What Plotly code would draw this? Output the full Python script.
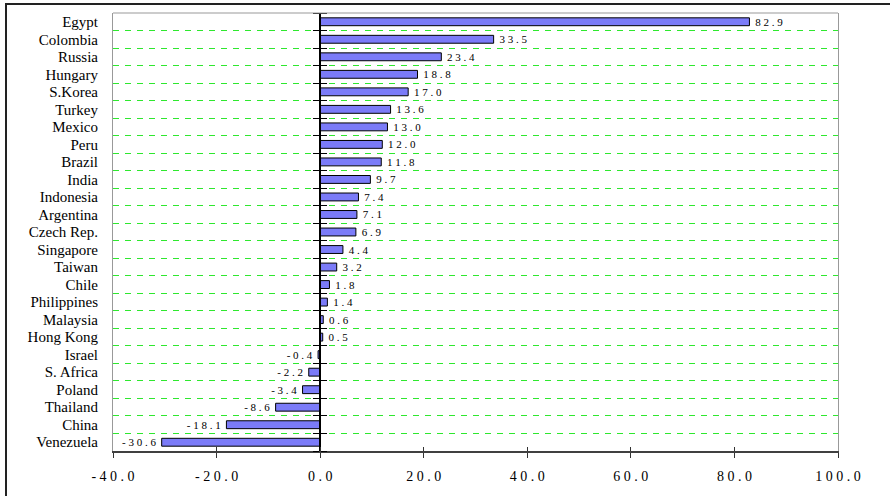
import plotly.graph_objects as go

# Countries listed top to bottom, with their percentage values
countries = ["Egypt", "Colombia", "Russia", "Hungary", "S.Korea", "Turkey", "Mexico",
             "Peru", "Brazil", "India", "Indonesia", "Argentina", "Czech Rep.",
             "Singapore", "Taiwan", "Chile", "Philippines", "Malaysia", "Hong Kong",
             "Israel", "S. Africa", "Poland", "Thailand", "China", "Venezuela"]
values = [82.9, 33.5, 23.4, 18.8, 17.0, 13.6, 13.0, 12.0, 11.8, 9.7, 7.4, 7.1, 6.9,
          4.4, 3.2, 1.8, 1.4, 0.6, 0.5, -0.4, -2.2, -3.4, -8.6, -18.1, -30.6]
x_ticks = [-40, -20, 0, 20, 40, 60, 80, 100]

W, H = 890, 496
ML, MR, MT, MB = 113, 52, 13, 43
PW, PH = W - ML - MR, H - MT - MB
FONT = "Liberation Serif"
NBSP = "\u00a0"


def spaced(s):
    return " ".join(s)


def bar_label(v):
    # small padding on the side facing the bar end
    s = spaced(f"{v:.1f}")
    return NBSP + s if v >= 0 else s + NBSP


ys = list(range(len(countries)))
boundaries = [i - 0.5 for i in range(len(countries) + 1)]
yrange = [len(countries) - 0.5, -0.5]
xrange_ = [x_ticks[0], x_ticks[-1]]
zero_pos = (0 - xrange_[0]) / (xrange_[1] - xrange_[0])

fig = go.Figure(go.Bar(
    x=values, y=ys, orientation="h",
    marker=dict(color="#7b7bf8", line=dict(color="black", width=1)),
    text=[bar_label(v) for v in values],
    textposition="outside",
    constraintext="none",
    textfont=dict(family=FONT, size=11, color="black"),
    cliponaxis=False,
    hoverinfo="skip",
))

grid_color = "#2ee82e"

fig.update_layout(
    width=W, height=H,
    margin=dict(l=ML, r=MR, t=MT, b=MB, pad=0),
    paper_bgcolor="white", plot_bgcolor="white",
    showlegend=False,
    bargap=0.55,
    font=dict(family=FONT, color="black"),
    xaxis=dict(
        range=xrange_, tickmode="array", tickvals=x_ticks,
        ticktext=[spaced(f"{t:.1f}") for t in x_ticks],
        ticks="outside", ticklen=5, tickwidth=1, tickcolor="#333333",
        showline=True, linecolor="#404040", linewidth=1.5,
        showgrid=False, zeroline=False,
        tickfont=dict(family=FONT, size=14, color="black"),
        ticklabelstandoff=6,
    ),
    xaxis2=dict(
        overlaying="x", anchor="y", side="bottom",
        range=xrange_, tickmode="array", tickvals=x_ticks,
        ticks="inside", ticklen=4, tickwidth=1, tickcolor="#333333",
        showticklabels=False, showgrid=False, zeroline=False, showline=False,
    ),
    yaxis=dict(
        range=yrange, tickmode="array", tickvals=ys, ticktext=countries,
        ticks="", showgrid=False, zeroline=False,
        showline=True, linecolor="#999999", linewidth=1, mirror=True,
        minor=dict(tickmode="array", tickvals=boundaries[1:-1], showgrid=True,
                   gridcolor=grid_color, gridwidth=1, griddash="6px,6px", ticks=""),
        tickfont=dict(family=FONT, size=15, color="black"),
        ticklabelstandoff=11,
    ),
    # category-boundary ticks crossing the vertical axis line at zero
    yaxis2=dict(
        overlaying="y", anchor="free", position=zero_pos, side="left",
        range=yrange, tickmode="array", tickvals=boundaries,
        ticks="outside", ticklen=6, tickwidth=1, tickcolor="black",
        showticklabels=False, showgrid=False, zeroline=False,
        showline=True, linecolor="black", linewidth=1.5,
    ),
    yaxis3=dict(
        overlaying="y", anchor="free", position=zero_pos, side="right",
        range=yrange, tickmode="array", tickvals=boundaries,
        ticks="outside", ticklen=6, tickwidth=1, tickcolor="black",
        showticklabels=False, showgrid=False, zeroline=False, showline=False,
    ),
)

# Invisible traces so the overlay axes are drawn
fig.add_trace(go.Scatter(x=[None], y=[None], xaxis="x2", yaxis="y", showlegend=False, hoverinfo="skip"))
fig.add_trace(go.Scatter(x=[None], y=[None], xaxis="x", yaxis="y2", showlegend=False, hoverinfo="skip"))
fig.add_trace(go.Scatter(x=[None], y=[None], xaxis="x", yaxis="y3", showlegend=False, hoverinfo="skip"))

# Top border of the plot area
fig.add_shape(type="line", xref="paper", yref="paper", x0=0, x1=1, y0=1, y1=1,
              line=dict(color="#999999", width=1), layer="above")

# Outer chart frame (extends past the right and bottom edges)
fx0 = (6 - ML) / PW
fy1 = (MT + PH - 4) / PH
fig.add_shape(type="rect", xref="paper", yref="paper",
              x0=fx0, x1=(W + 20 - ML) / PW, y0=-(MB + 20) / PH, y1=fy1,
              line=dict(color="#222222", width=2), layer="above")

fig.write_html("out.html", config={"displayModeBar": False})
